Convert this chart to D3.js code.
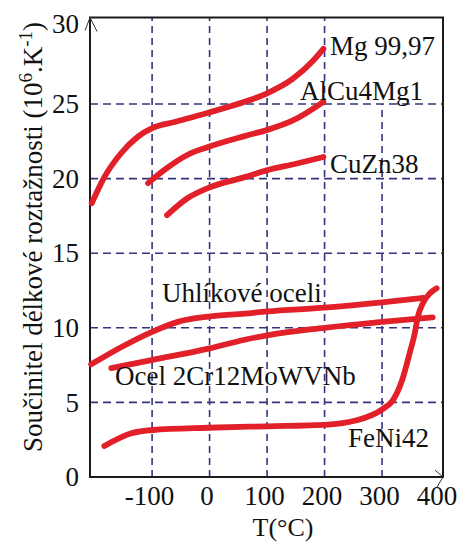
<!DOCTYPE html>
<html>
<head>
<meta charset="utf-8">
<script src="https://cdn.jsdelivr.net/npm/d3@7"></script>
<style>
  html, body { margin: 0; padding: 0; background: #fff; }
  svg { display: block; }
  text { font-family: "Liberation Serif", "Times New Roman", serif; fill: #111; }
</style>
</head>
<body>
<svg id="chart" width="472" height="548"></svg>
<script>
// ---- data ----
const xTicks = [-100, 0, 100, 200, 300, 400];
const yTicks = [0, 5, 10, 15, 20, 25, 30];
const xGrid = [-100, 0, 100, 200, 300];
const yGrid = [5, 10, 15, 20, 25];

const seriesNames = ["Mg 99,97", "AlCu4Mg1", "CuZn38", "Uhlíkové oceli", "Ocel 2Cr12MoWVNb", "FeNi42"];

const mgT = [-205, -183, -154, -125, -99, -61, -4, 61, 99, 145, 180, 198];
const mgV = [18.35, 20.1, 21.7, 22.8, 23.4, 23.8, 24.4, 25.15, 25.7, 26.7, 27.9, 28.7];

const alT = [-107, -78, -38, -4, 61, 99, 145, 198];
const alV = [19.7, 20.6, 21.6, 22.1, 22.85, 23.25, 23.9, 25.15];

const cuT = [-74, -38, -4, 61, 99, 150, 198];
const cuV = [17.55, 18.7, 19.35, 20.1, 20.55, 21.0, 21.45];

const carbonT = [-206, -154, -99, -55, -2, 61, 100, 200, 300, 372];
const carbonV = [7.55, 8.7, 9.75, 10.4, 10.75, 10.95, 11.1, 11.35, 11.7, 12.0];

const ocelT = [-171, -99, -2, 61, 100, 200, 300, 388];
const ocelV = [7.3, 7.85, 8.6, 9.2, 9.5, 10.0, 10.4, 10.7];

const feT = [-183, -136, -99, -2, 100, 200, 256, 301, 319, 335, 348, 357, 362, 371, 383, 395];
const feV = [2.08, 2.93, 3.15, 3.3, 3.4, 3.5, 3.8, 4.55, 5.15, 6.5, 8.3, 9.65, 10.7, 11.65, 12.3, 12.65];

const xTitle = "T(°C)";

// ---- layout ----
const svg = d3.select("#chart");
const L = 90, R = 443, T = 17.5, B = 477;
const x = d3.scaleLinear().domain([-208, 406]).range([L, R]);
const y = d3.scaleLinear().domain([0, 30.8]).range([B, T]);

const red = "#e2202a";
const gridColor = "#34347c";

// gridlines
const g = svg.append("g");
g.selectAll("line.h").data(yGrid).join("line")
  .attr("x1", L).attr("x2", R)
  .attr("y1", d => y(d)).attr("y2", d => y(d))
  .attr("stroke", gridColor).attr("stroke-width", 1.6)
  .attr("stroke-dasharray", "8,5");
g.selectAll("line.v").data(xGrid).join("line")
  .attr("x1", d => x(d)).attr("x2", d => x(d))
  .attr("y1", B).attr("y2", d => d === 300 ? y(25) : T)
  .attr("stroke", gridColor).attr("stroke-width", 1.6)
  .attr("stroke-dasharray", "7,5");

// frame
svg.append("rect").attr("x", L).attr("y", T).attr("width", R - L).attr("height", B - T)
  .attr("fill", "none").attr("stroke", "#1a1a1a").attr("stroke-width", 2);
// arrow heads
svg.append("path").attr("d", `M${L-5},${T+13} L${L},${T} L${L+7},${T+14}`)
  .attr("fill", "none").attr("stroke", "#333").attr("stroke-width", 1);
svg.append("path").attr("d", `M${R-8},${B-7} L${R},${B} L${R-6},${B+10}`)
  .attr("fill", "none").attr("stroke", "#333").attr("stroke-width", 1);

// axes (labels only)
const ax = svg.append("g").attr("transform", `translate(0,${B})`)
  .call(d3.axisBottom(x).tickValues(xTicks).tickSize(0).tickPadding(9).tickFormat(d3.format("d")));
const ay = svg.append("g").attr("transform", `translate(${L},0)`)
  .call(d3.axisLeft(y).tickValues(yTicks).tickSize(0).tickPadding(11).tickFormat(d3.format("d")));
[ax, ay].forEach(a => {
  a.select(".domain").remove();
  a.selectAll("text").attr("font-family", "Liberation Serif").attr("font-size", 27).attr("fill", "#111");
});
ax.selectAll("text").attr("dx", -3).text(d => d < 0 ? "-" + Math.abs(d) : d);
ay.selectAll("text").filter(d => d === 30).attr("dy", "0.1em");

// curves
const line = d3.line().x(d => x(d[0])).y(d => y(d[1])).curve(d3.curveMonotoneX);
const zipS = (ts, vs) => ts.map((t, i) => [t, vs[i]]);
const series = [zipS(mgT, mgV), zipS(alT, alV), zipS(cuT, cuV), zipS(carbonT, carbonV), zipS(ocelT, ocelV), zipS(feT, feV)];
svg.append("g").selectAll("path").data(series).join("path")
  .attr("d", line).attr("fill", "none").attr("stroke", red)
  .attr("stroke-width", 5.8).attr("stroke-linecap", "round").attr("stroke-linejoin", "round");

// curve labels
const labelPos = [[330, 55], [300, 100], [330, 173], [162, 302], [115, 385], [348, 447]];
svg.append("g").selectAll("text").data(seriesNames).join("text")
  .attr("x", (d, i) => labelPos[i][0]).attr("y", (d, i) => labelPos[i][1])
  .attr("font-size", 27).text(d => d);

// axis titles
svg.append("text").attr("x", 283).attr("y", 536).attr("text-anchor", "middle")
  .attr("font-size", 26).text(xTitle);

const yt = svg.append("text").attr("transform", "translate(42,237) rotate(-90)")
  .attr("text-anchor", "middle").attr("font-size", 27);
yt.append("tspan").text("Součinitel délkové  roztažnosti (10");
yt.append("tspan").attr("dy", -10).attr("font-size", 19).text("6");
yt.append("tspan").attr("dy", 10).text(".K");
yt.append("tspan").attr("dy", -10).attr("font-size", 19).text("-1");
yt.append("tspan").attr("dy", 10).text(")");
</script>
</body>
</html>
